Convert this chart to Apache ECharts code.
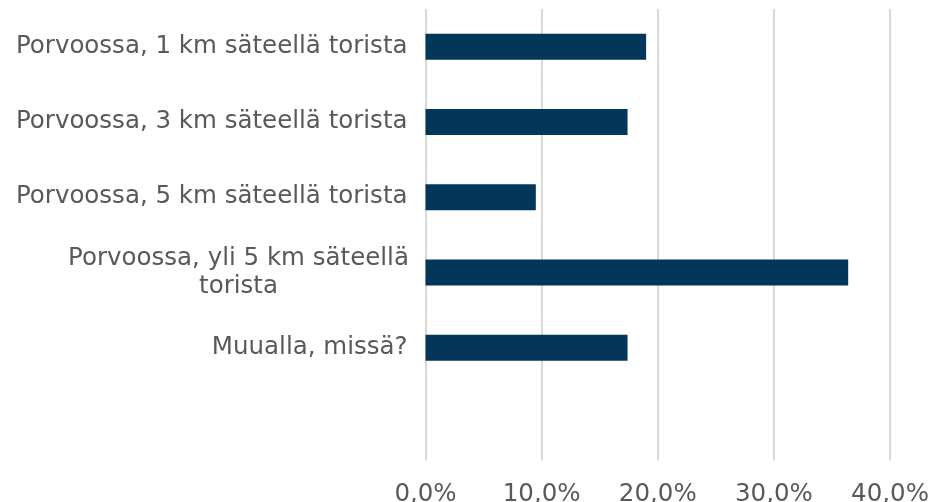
<!DOCTYPE html>
<html>
<head>
<meta charset="utf-8">
<script src="https://cdn.jsdelivr.net/npm/echarts@6/dist/echarts.min.js"></script>
<style>
  html, body { margin: 0; padding: 0; background: #fff; }
  #chart { width: 935px; height: 502px; }
</style>
</head>
<body>
<div id="chart"></div>
<script>
// categories top to bottom, last slot is empty in the original
const categories = [
    'Porvoossa, 1 km säteellä torista',
    'Porvoossa, 3 km säteellä torista',
    'Porvoossa, 5 km säteellä torista',
    'Porvoossa, yli 5 km säteellä\ntorista',
    'Muualla, missä?',
    ''
];
const values = [19.0, 17.4, 9.5, 36.4, 17.4, null];
const xTicks = [0, 10, 20, 30, 40];

const chart = echarts.init(document.getElementById('chart'));

const labelFont = { color: '#595959', fontFamily: 'DejaVu Sans', fontSize: 24.5 };

const option = {
    animation: false,
    grid: {
        left: 425.5, right: 45, top: 9, bottom: 41.5,
        containLabel: false, outerBoundsMode: 'none'
    },
    xAxis: {
        type: 'value',
        min: xTicks[0],
        max: xTicks[xTicks.length - 1],
        interval: 10,
        axisLine: { show: false },
        axisTick: { show: false },
        splitLine: { lineStyle: { color: '#d9d9d9', width: 2 } },
        axisLabel: Object.assign({}, labelFont, {
            margin: 22,
            formatter: v => v.toFixed(1).replace('.', ',') + '%'
        })
    },
    yAxis: {
        type: 'category',
        inverse: true,
        data: categories,
        axisLine: { show: false },
        axisTick: { show: false },
        axisLabel: Object.assign({}, labelFont, {
            margin: 18,
            lineHeight: 28,
            formatter: function (v) {
                if (v.indexOf('\n') < 0) return v;
                return v.split('\n').map(s => '{w|' + s + '}').join('\n');
            },
            rich: {
                w: Object.assign({}, labelFont, { width: 338, align: 'center', lineHeight: 28 })
            }
        })
    },
    series: [{
        type: 'bar',
        data: values,
        barWidth: 26,
        itemStyle: { color: '#03375a' }
    }]
};

chart.setOption(option);
</script>
</body>
</html>
